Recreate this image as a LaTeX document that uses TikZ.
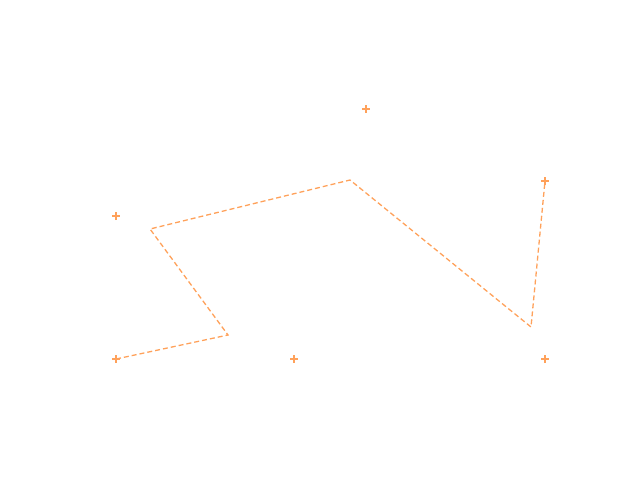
\documentclass[tikz,border=0pt]{standalone}
\begin{document}
\begin{tikzpicture}[x=1pt,y=-1pt]
\definecolor{org}{HTML}{FFA15A}
\tikzset{pl/.style={draw=org,line width=1.2pt},
 ln/.style={draw=org,line width=1.3pt,dashed,dash pattern=on 5pt off 3pt}}
\useasboundingbox (0,0) rectangle (640,480);
\coordinate (p1) at (116,359);
\coordinate (p2) at (228,335);
\coordinate (p3) at (150,229);
\coordinate (p4) at (350,180);
\coordinate (p5) at (531,327);
\coordinate (p6) at (545,181);
\draw[ln] (p1) -- (p2) -- (p3) -- (p4) -- (p5) -- (p6);
\foreach \n/\x/\y in {m1/366/109,m2/545/181,m3/116/216,m4/116/359,m5/294/359,m6/545/359}{
 \coordinate (\n) at (\x,\y);
 \draw[pl] ([xshift=-4pt]\n) -- ([xshift=4pt]\n);
 \draw[pl] ([yshift=-4pt]\n) -- ([yshift=4pt]\n);
}
\end{tikzpicture}
\end{document}
